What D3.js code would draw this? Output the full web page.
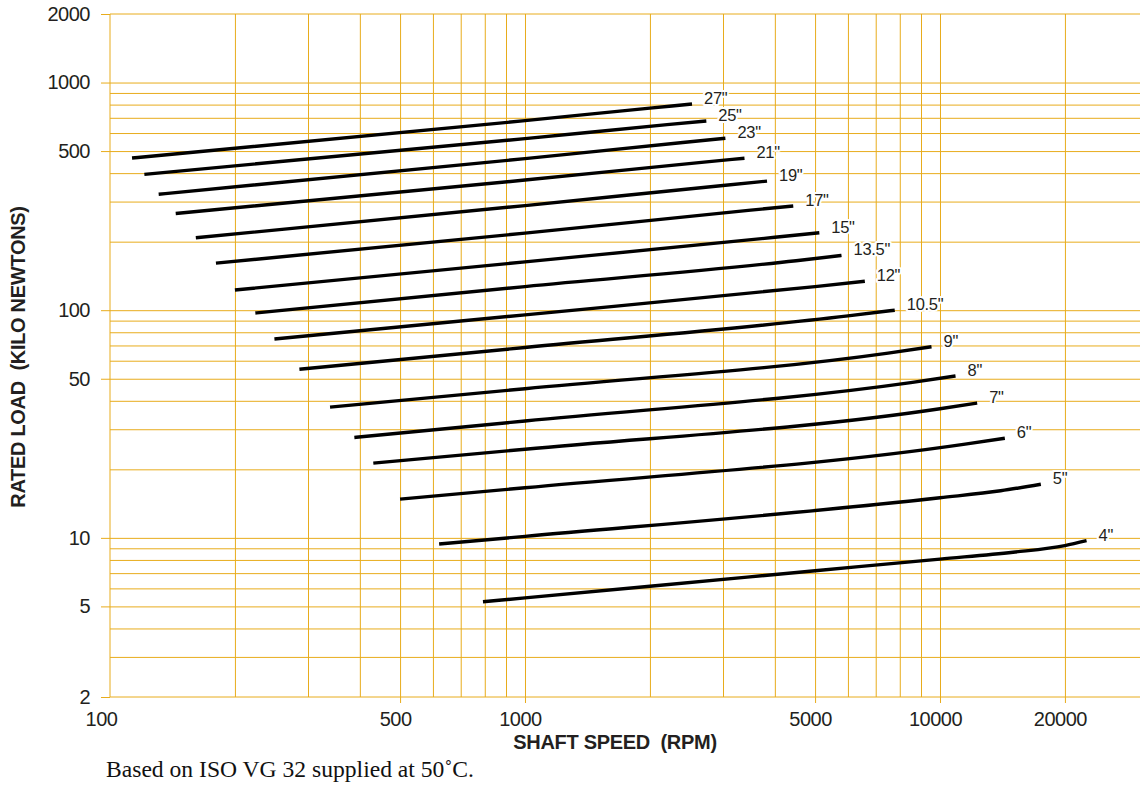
<!DOCTYPE html>
<html><head><meta charset="utf-8">
<script src="https://cdn.jsdelivr.net/npm/d3@7"></script>
<style>
html,body{margin:0;padding:0;background:#fff;}
svg{display:block;}
text{white-space:pre;}
</style></head>
<body><svg id="chart" width="1140" height="786"></svg>
<script>
// ---- data ----
const sizes = ['27"','25"','23"','21"','19"','17"','15"','13.5"','12"','10.5"','9"','8"','7"','6"','5"','4"'];
const speeds = [
  [113, 1000, 2000, 2526],
  [121, 1000, 2200, 2735],
  [131, 1000, 2400, 3040],
  [144, 1000, 2700, 3380],
  [161, 1000, 3000, 3830],
  [180, 1000, 3500, 4430],
  [200, 1000, 4000, 5120],
  [224, 1000, 4500, 5790],
  [249, 1000, 5000, 6590],
  [286, 1000, 6000, 7780],
  [339, 1000, 7500, 9540],
  [388, 1000, 8500, 10900],
  [431, 1000, 10000, 12290],
  [500, 1000, 11500, 14330],
  [621, 1000, 10000, 14000, 17500],
  [792, 1000, 2000, 5000, 10000, 15000, 20000, 22550]
];
const loads = [
  [466, 680, 772, 805],
  [395, 567, 653, 678],
  [323, 463, 545, 569],
  [266, 373, 447, 465],
  [208, 288, 353, 369],
  [161, 218, 275, 287],
  [122.7, 163, 209, 219],
  [97.2, 127, 165, 174],
  [74.7, 95.4, 127, 134],
  [55.0, 68.6, 94.4, 100],
  [37.5, 45.2, 64.8, 69.1],
  [27.6, 32.6, 48.1, 51.4],
  [21.3, 24.5, 36.9, 39.1],
  [14.8, 16.6, 25.8, 27.4],
  [9.40, 10.15, 15.0, 16.1, 17.2],
  [5.24, 5.45, 6.13, 7.17, 8.07, 8.65, 9.25, 9.72]
];
const xTickLabels = [100, 500, 1000, 5000, 10000, 20000];
const yTickLabels = [2, 5, 10, 50, 100, 500, 1000, 2000];
const xGridValues = [200,300,400,500,600,700,800,900,1000,2000,3000,4000,5000,6000,7000,8000,9000,10000,20000];
const yGridValues = [3,4,5,6,7,8,9,10,20,30,40,50,60,70,80,90,100,200,300,400,500,600,700,800,900,1000];
const xTitle = 'SHAFT SPEED  (RPM)';
const yTitle = 'RATED LOAD  (KILO NEWTONS)';
const footnote = 'Based on ISO VG 32 supplied at 50˚C.';

// ---- layout ----
const plotLeft = 110, plotTop = 14, plotBottom = 697, plotRight = 1140;
const GOLD = '#E8AC1C', INK = '#231F20';
const svg = d3.select('#chart');
const x = d3.scaleLog().domain([100, 30000]).range([plotLeft, 1138]);
const y = d3.scaleLog().domain([2, 2000]).range([plotBottom, plotTop]);

// gridlines
const gv = svg.append('g').attr('transform', `translate(0,${plotTop})`)
  .call(d3.axisBottom(x).tickValues(xGridValues).tickSize(plotBottom - plotTop).tickFormat(''));
gv.select('.domain').remove();
gv.selectAll('line').attr('stroke', GOLD).attr('stroke-width', 1);

const gh = svg.append('g').attr('transform', `translate(${plotLeft},0)`)
  .call(d3.axisRight(y).tickValues(yGridValues).tickSize(plotRight - plotLeft).tickFormat(''));
gh.select('.domain').remove();
gh.selectAll('line').attr('stroke', GOLD).attr('stroke-width', 1);

// frame
svg.append('line').attr('x1', plotLeft).attr('x2', plotRight).attr('y1', y(2000)).attr('y2', y(2000)).attr('stroke', GOLD);
svg.append('line').attr('x1', plotLeft).attr('x2', plotRight).attr('y1', y(2)).attr('y2', y(2)).attr('stroke', GOLD);
svg.append('line').attr('x1', x(100)).attr('x2', x(100)).attr('y1', plotTop).attr('y2', plotBottom).attr('stroke', GOLD);

// axes with labels
const fmt = d3.format('d');
const ya = svg.append('g').attr('transform', `translate(${plotLeft},0)`)
  .call(d3.axisLeft(y).tickValues(yTickLabels).tickFormat(fmt).tickSize(9).tickPadding(11));
ya.select('.domain').remove();
ya.selectAll('line').attr('stroke', GOLD);
ya.selectAll('text').attr('font-family', '"Liberation Sans", Arial, sans-serif')
  .attr('font-size', 20).attr('letter-spacing', '-0.5px').attr('fill', INK);

const xa = svg.append('g').attr('transform', `translate(0,${plotBottom})`)
  .call(d3.axisBottom(x).tickValues(xTickLabels).tickFormat(fmt).tickSize(6).tickPadding(9));
xa.select('.domain').remove();
xa.selectAll('line').attr('stroke', GOLD).attr('opacity', d => d === 100 ? 0 : 1);
xa.selectAll('text').attr('font-family', '"Liberation Sans", Arial, sans-serif')
  .attr('font-size', 20).attr('letter-spacing', '-0.5px').attr('fill', INK)
  .attr('dx', d => d === 100 ? -9 : -5);

// curves
const line = d3.line().x(d => x(d[0])).y(d => y(d[1])).curve(d3.curveMonotoneX);
const curves = sizes.map((s, i) => ({ size: s, pts: speeds[i].map((v, j) => [v, loads[i][j]]) }));
svg.append('g').selectAll('path').data(curves).join('path')
  .attr('d', d => line(d.pts))
  .attr('fill', 'none').attr('stroke', '#000').attr('stroke-width', 3.4);

// curve labels
svg.append('g').selectAll('text').data(curves).join('text')
  .attr('x', d => x(d.pts[d.pts.length - 1][0]) + 12)
  .attr('y', d => y(d.pts[d.pts.length - 1][1]))
  .attr('font-family', '"Liberation Sans", Arial, sans-serif')
  .attr('font-size', 16.5).attr('letter-spacing', '-0.3px').attr('fill', INK)
  .attr('stroke', '#fff').attr('stroke-width', 4).attr('paint-order', 'stroke')
  .attr('stroke-linejoin', 'round')
  .text(d => d.size);

// titles
svg.append('text').attr('x', 615).attr('y', 749).attr('text-anchor', 'middle')
  .attr('font-family', '"Liberation Sans", Arial, sans-serif').attr('font-weight', 'bold')
  .attr('font-size', 20).attr('letter-spacing', '-0.3px').attr('fill', INK).text(xTitle);
svg.append('text').attr('transform', 'translate(25,357) rotate(-90)').attr('text-anchor', 'middle')
  .attr('font-family', '"Liberation Sans", Arial, sans-serif').attr('font-weight', 'bold')
  .attr('font-size', 20).attr('letter-spacing', '-0.3px').attr('fill', INK).text(yTitle);
svg.append('text').attr('x', 106).attr('y', 777)
  .attr('font-family', '"Liberation Serif", "Times New Roman", serif')
  .attr('font-size', 23.6).attr('fill', '#111').text(footnote);
</script>
</body></html>
